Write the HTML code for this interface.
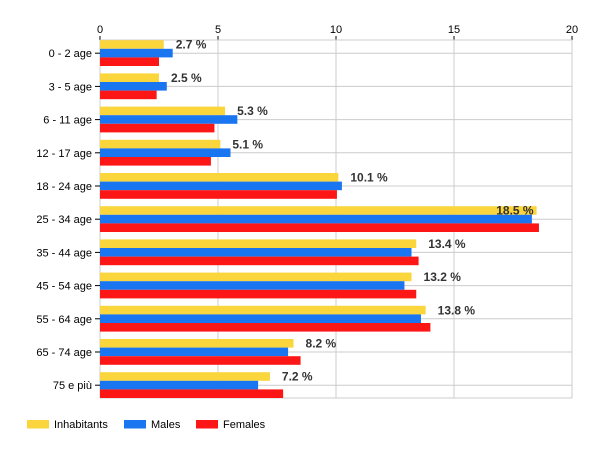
<!DOCTYPE html><html><head><meta charset="utf-8"><style>body{margin:0;background:#fff}svg{display:block}text{font-family:"Liberation Sans",sans-serif}</style></head><body>
<svg width="600" height="450" xmlns="http://www.w3.org/2000/svg" id="s"></svg>
<script>
const s=document.getElementById('s');
const cats=["0 - 2 age","3 - 5 age","6 - 11 age","12 - 17 age","18 - 24 age","25 - 34 age","35 - 44 age","45 - 54 age","55 - 64 age","65 - 74 age","75 e più"];
const inh=[2.7,2.5,5.3,5.1,10.1,18.5,13.4,13.2,13.8,8.2,7.2];
const m=[3.08,2.83,5.82,5.53,10.25,18.3,13.2,12.9,13.6,7.97,6.7];
const f=[2.5,2.4,4.85,4.7,10.04,18.6,13.5,13.4,14.0,8.5,7.76];
const X0=100,S=23.6,T=40,B=398;
let h='';
for(let i=0;i<=4;i++){const x=X0+i*5*S;h+=`<line x1="${x}" y1="${T}" x2="${x}" y2="${B}" stroke="#ccc"/><line x1="${x}" y1="36" x2="${x}" y2="${T}" stroke="#000"/><text x="${x}" y="33" font-size="11" text-anchor="middle">${i*5}</text>`;}
h+=`<line x1="${X0}" y1="${T}" x2="572" y2="${T}" stroke="#ccc"/><line x1="${X0}" y1="${B}" x2="572" y2="${B}" stroke="#ccc"/>`;
cats.forEach((c,i)=>{const cy=53.2+i*33.2;
h+=`<line x1="${X0}" y1="${cy}" x2="572" y2="${cy}" stroke="#ccc"/><line x1="95" y1="${cy}" x2="${X0}" y2="${cy}" stroke="#000"/><text x="92" y="${cy+4}" font-size="11" text-anchor="end">${c}</text>`;});
cats.forEach((c,i)=>{const cy=53.2+i*33.2;
h+=`<rect x="${X0}" y="${cy-13}" width="${inh[i]*S}" height="8.6" fill="#fad53c"/>`;
h+=`<rect x="${X0}" y="${cy-4.4}" width="${m[i]*S}" height="8.6" fill="#1a75f0"/>`;
h+=`<rect x="${X0}" y="${cy+4.2}" width="${f[i]*S}" height="8.6" fill="#fd1616"/>`;
const end=X0+inh[i]*S;const lab=inh[i]+' %';
if(inh[i]>18)h+=`<text x="${end-3}" y="${cy-4.5}" font-size="12" font-weight="bold" fill="#333" text-anchor="end">${lab}</text>`;
else h+=`<text x="${end+12}" y="${cy-4.5}" font-size="12" font-weight="bold" fill="#333">${lab}</text>`;});
[[27,"#fad53c","Inhabitants"],[124,"#1a75f0","Males"],[196,"#fd1616","Females"]].forEach(([x,c,t])=>{h+=`<rect x="${x}" y="420" width="22" height="8.5" fill="${c}"/><text x="${x+27}" y="428" font-size="11">${t}</text>`;});
s.innerHTML=h;
</script></body></html>
